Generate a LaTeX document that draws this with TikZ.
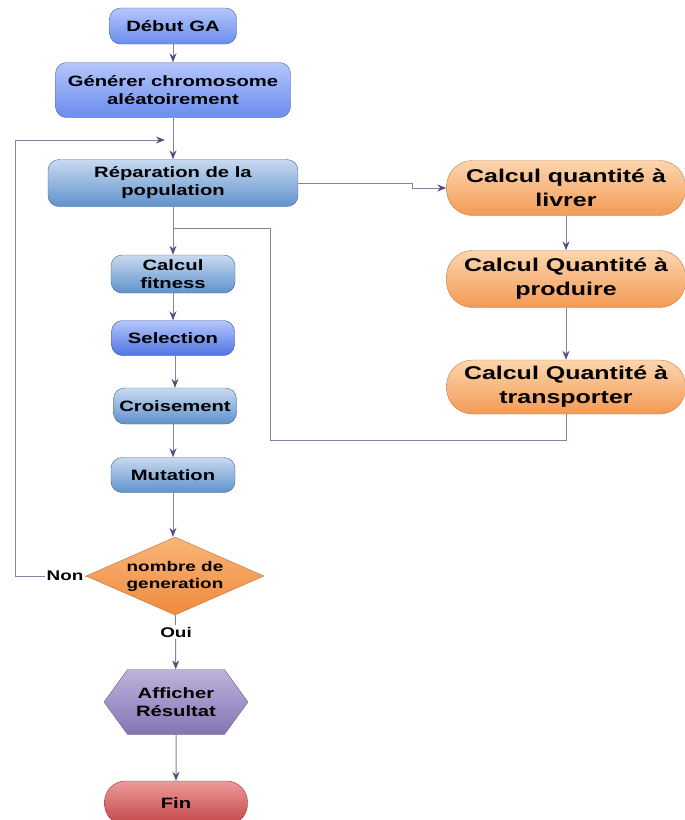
\documentclass[tikz,border=0pt]{standalone}
\usepackage{fontspec}
\newfontfamily\lab[FakeStretch=1.35]{Liberation Sans Bold}
\usetikzlibrary{shapes.geometric,shapes.symbols,arrows.meta}
\definecolor{linec}{HTML}{84839E}
\definecolor{arrc}{HTML}{5B4B85}
\definecolor{bluetop}{HTML}{B4C6FA}
\definecolor{bluebot}{HTML}{6A8CEE}
\definecolor{selbot}{HTML}{4F74E4}
\definecolor{steeltop}{HTML}{C8DAF0}
\definecolor{steelbot}{HTML}{5F92CC}
\definecolor{orgtop}{HTML}{FCD6AE}
\definecolor{orgbot}{HTML}{F39A55}
\definecolor{diatop}{HTML}{F8B578}
\definecolor{diabot}{HTML}{EF8A3E}
\definecolor{hextop}{HTML}{BEB2DC}
\definecolor{hexbot}{HTML}{8574B4}
\definecolor{fintop}{HTML}{EE9A9A}
\definecolor{finbot}{HTML}{C24444}
\begin{document}
\begin{tikzpicture}[x=1pt,y=-1pt,
  line/.style={draw=linec, line width=1pt},
  arr/.style={line, -{Stealth[length=9pt,width=7pt,color=arrc]}},
  base/.style={align=center, inner sep=0pt, text=black, font=\lab\fontsize{14}{17}\selectfont},
  boxfont/.style={font=\lab\fontsize{15}{18}\selectfont},
  bluebox/.style={base, boxfont, draw=#1!70!black, rounded corners=11pt, top color=bluetop, bottom color=#1},
  steelbox/.style={base, boxfont, draw=steelbot!70!black, rounded corners=11pt, top color=steeltop, bottom color=steelbot},
  pill/.style={base, draw=orgbot!80!black, rounded corners=26pt, top color=orgtop, bottom color=orgbot, minimum width=239pt, font=\lab\fontsize{18.5}{24}\selectfont},
  decision/.style={base, diamond, aspect=2.28, draw=diabot!80!black, top color=diatop, bottom color=diabot, minimum width=178pt, minimum height=78pt},
  hexa/.style={base, boxfont, signal, signal to=east and west, signal pointer angle=108, draw=hexbot!80!black, top color=hextop, bottom color=hexbot, minimum width=144pt, minimum height=65pt},
  endbox/.style={base, boxfont, draw=finbot!80!black, rounded corners=21pt, top color=fintop, bottom color=finbot},
  lbl/.style={base, fill=white, inner sep=1.5pt}
]
\useasboundingbox (0,0) rectangle (685,820);

% left column
\node[bluebox=bluebot, minimum width=127pt, minimum height=36pt] (debut) at (173,26) {Début GA};
\node[bluebox=bluebot, minimum width=235pt, minimum height=55pt] (gen) at (173,90) {Générer chromosome\\aléatoirement};
\node[steelbox, minimum width=250pt, minimum height=47pt] (rep) at (173,183) {Réparation de la\\population};
\node[steelbox, minimum width=124pt, minimum height=38pt] (fit) at (173,274) {Calcul\\fitness};
\node[bluebox=selbot, minimum width=123pt, minimum height=35pt] (sel) at (173,338) {Selection};
\node[steelbox, minimum width=123pt, minimum height=36pt] (cro) at (175,406) {Croisement};
\node[steelbox, minimum width=124pt, minimum height=35pt] (mut) at (173,475) {Mutation};
\node[decision] (dia) at (175,576) {nombre de\\generation};
\node[hexa] (aff) at (176,702) {Afficher\\Résultat};
\node[endbox, minimum width=143pt, minimum height=44pt] (fin) at (176,803) {Fin};

% right column
\node[pill, minimum height=55pt] (liv) at (566,188) {Calcul quantité à\\livrer};
\node[pill, minimum height=57pt] (pro) at (566,279) {Calcul Quantité à\\produire};
\node[pill, minimum height=54pt] (tra) at (566,387) {Calcul Quantité à\\transporter};

% helper coordinates
\coordinate (lx) at (15,140);
\coordinate (lp) at (165,140);
\coordinate (c1) at (270,440);
\coordinate (jn) at (173,228);

% connectors
\draw[arr] (debut) -- (gen);
\draw[arr] (gen) -- (rep);
\draw[arr] (rep) -- (fit);
\draw[arr] (fit) -- (sel);
\draw[arr] (sel.south -| cro.north) -- (cro);
\draw[arr] (cro.south -| mut.north) -- (mut);
\draw[arr] (mut) -- (mut.south |- dia.north);
\draw[arr] (dia) -- (aff);
\draw[arr] (aff) -- (fin);
\draw[arr] (dia.west) -| (lx) -- (lp);
\draw[arr] (rep.east) -- ++(114,0) |- (liv.west);
\draw[arr] (liv) -- (pro);
\draw[arr] (pro) -- (tra);
\draw[line] (tra.south) |- (c1) |- (jn);

% labels
\node[lbl] (non) at (65,576) {Non};
\node[lbl] (oui) at (176,632) {Oui};
\end{tikzpicture}
\end{document}
